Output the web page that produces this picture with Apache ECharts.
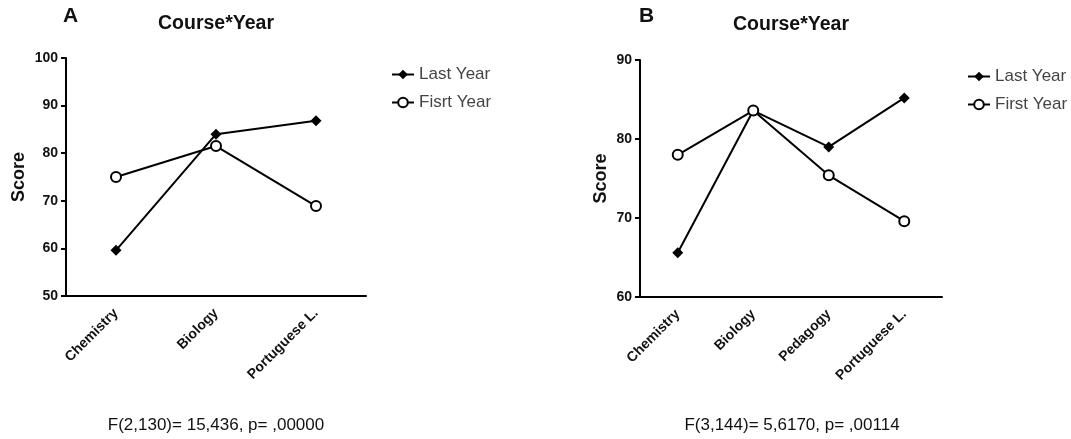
<!DOCTYPE html>
<html>
<head>
<meta charset="utf-8">
<script src="https://cdn.jsdelivr.net/npm/echarts@6/dist/echarts.min.js"></script>
<style>
  html, body { margin: 0; padding: 0; background: #fff; }
  #chart { width: 1071px; height: 439px; }
</style>
</head>
<body>
<div id="chart"></div>
<script>
// panel A
var coursesA = ['Chemistry', 'Biology', 'Portuguese L.'];
var lastYearA = [59.6, 84.0, 86.8];
var firstYearA = [75.0, 81.5, 68.9];

// panel B
var coursesB = ['Chemistry', 'Biology', 'Pedagogy', 'Portuguese L.'];
var lastYearB = [65.6, 83.6, 79.0, 85.2];
var firstYearB = [78.0, 83.6, 75.4, 69.6];

var statA = 'F(2,130)= 15,436, p= ,00000';
var statB = 'F(3,144)= 5,6170, p= ,00114';

var font = '"Liberation Sans", Arial, sans-serif';
var myChart = echarts.init(document.getElementById('chart'));

function xAxis(idx, cats) {
    return {
        type: 'category',
        gridIndex: idx,
        data: cats,
        boundaryGap: true,
        axisLine: {lineStyle: {color: '#000', width: 2}},
        axisTick: {alignWithLabel: true, length: 5, lineStyle: {color: '#000', width: 2}},
        axisLabel: {
            rotate: 45, margin: 15, color: '#111',
            fontFamily: font, fontWeight: 'bold', fontSize: 14
        }
    };
}
function yAxis(idx, min, max, gap) {
    return {
        type: 'value',
        gridIndex: idx,
        min: min, max: max, interval: 10,
        name: 'Score',
        nameLocation: 'middle',
        nameRotate: 90,
        nameGap: gap,
        nameTextStyle: {fontFamily: font, fontWeight: 'bold', fontSize: 18, color: '#111'},
        splitLine: {show: false},
        axisLine: {show: true, lineStyle: {color: '#000', width: 2}},
        axisTick: {show: true, length: 5, lineStyle: {color: '#000', width: 2}},
        axisLabel: {color: '#111', fontFamily: font, fontWeight: 'bold', fontSize: 14, margin: 8}
    };
}
function lineSeries(name, idx, data, isLast) {
    return {
        type: 'line',
        name: name,
        xAxisIndex: idx,
        yAxisIndex: idx,
        data: data,
        symbol: isLast ? 'diamond' : 'emptyCircle',
        symbolSize: isLast ? 11 : 10,
        color: '#000',
        lineStyle: {color: '#000', width: 2},
        itemStyle: {color: '#000', borderWidth: isLast ? 0 : 2.5},
        emphasis: {disabled: true},
        animation: false
    };
}
function legend(names, left, top) {
    return {
        data: names,
        orient: 'vertical',
        left: left, top: top,
        itemWidth: 22, itemHeight: 12, itemGap: 11,
        textStyle: {fontFamily: font, fontSize: 17, color: '#444'},
        formatter: function (n) { return n === 'Last Year B' ? 'Last Year' : n; },
        selectedMode: false
    };
}

myChart.setOption({
    backgroundColor: '#fff',
    grid: [
        {left: 66, top: 58, width: 300, height: 238},
        {left: 640, top: 60, width: 302, height: 237}
    ],
    xAxis: [xAxis(0, coursesA), xAxis(1, coursesB)],
    yAxis: [yAxis(0, 50, 100, 38), yAxis(1, 60, 90, 30)],
    legend: [
        legend(['Last Year', 'Fisrt Year'], 386, 61),
        legend(['Last Year B', 'First Year'], 962, 63)
    ],
    series: [
        lineSeries('Last Year', 0, lastYearA, true),
        lineSeries('Fisrt Year', 0, firstYearA, false),
        lineSeries('Last Year B', 1, lastYearB, true),
        lineSeries('First Year', 1, firstYearB, false)
    ],
    graphic: [
        {type: 'text', left: 63, top: 6, style: {text: 'A', font: 'bold 21px ' + font, fill: '#111'}},
        {type: 'text', left: 639, top: 6, style: {text: 'B', font: 'bold 21px ' + font, fill: '#111'}},
        {type: 'text', x: 216, y: 24, style: {text: 'Course*Year', font: 'bold 19.5px ' + font, fill: '#111', align: 'center', verticalAlign: 'middle'}},
        {type: 'text', x: 791, y: 25, style: {text: 'Course*Year', font: 'bold 19.5px ' + font, fill: '#111', align: 'center', verticalAlign: 'middle'}},
        {type: 'text', x: 216, y: 425, style: {text: statA, font: '17px ' + font, fill: '#111', align: 'center', verticalAlign: 'middle'}},
        {type: 'text', x: 792, y: 425, style: {text: statB, font: '17px ' + font, fill: '#111', align: 'center', verticalAlign: 'middle'}}
    ]
});
</script>
</body>
</html>
